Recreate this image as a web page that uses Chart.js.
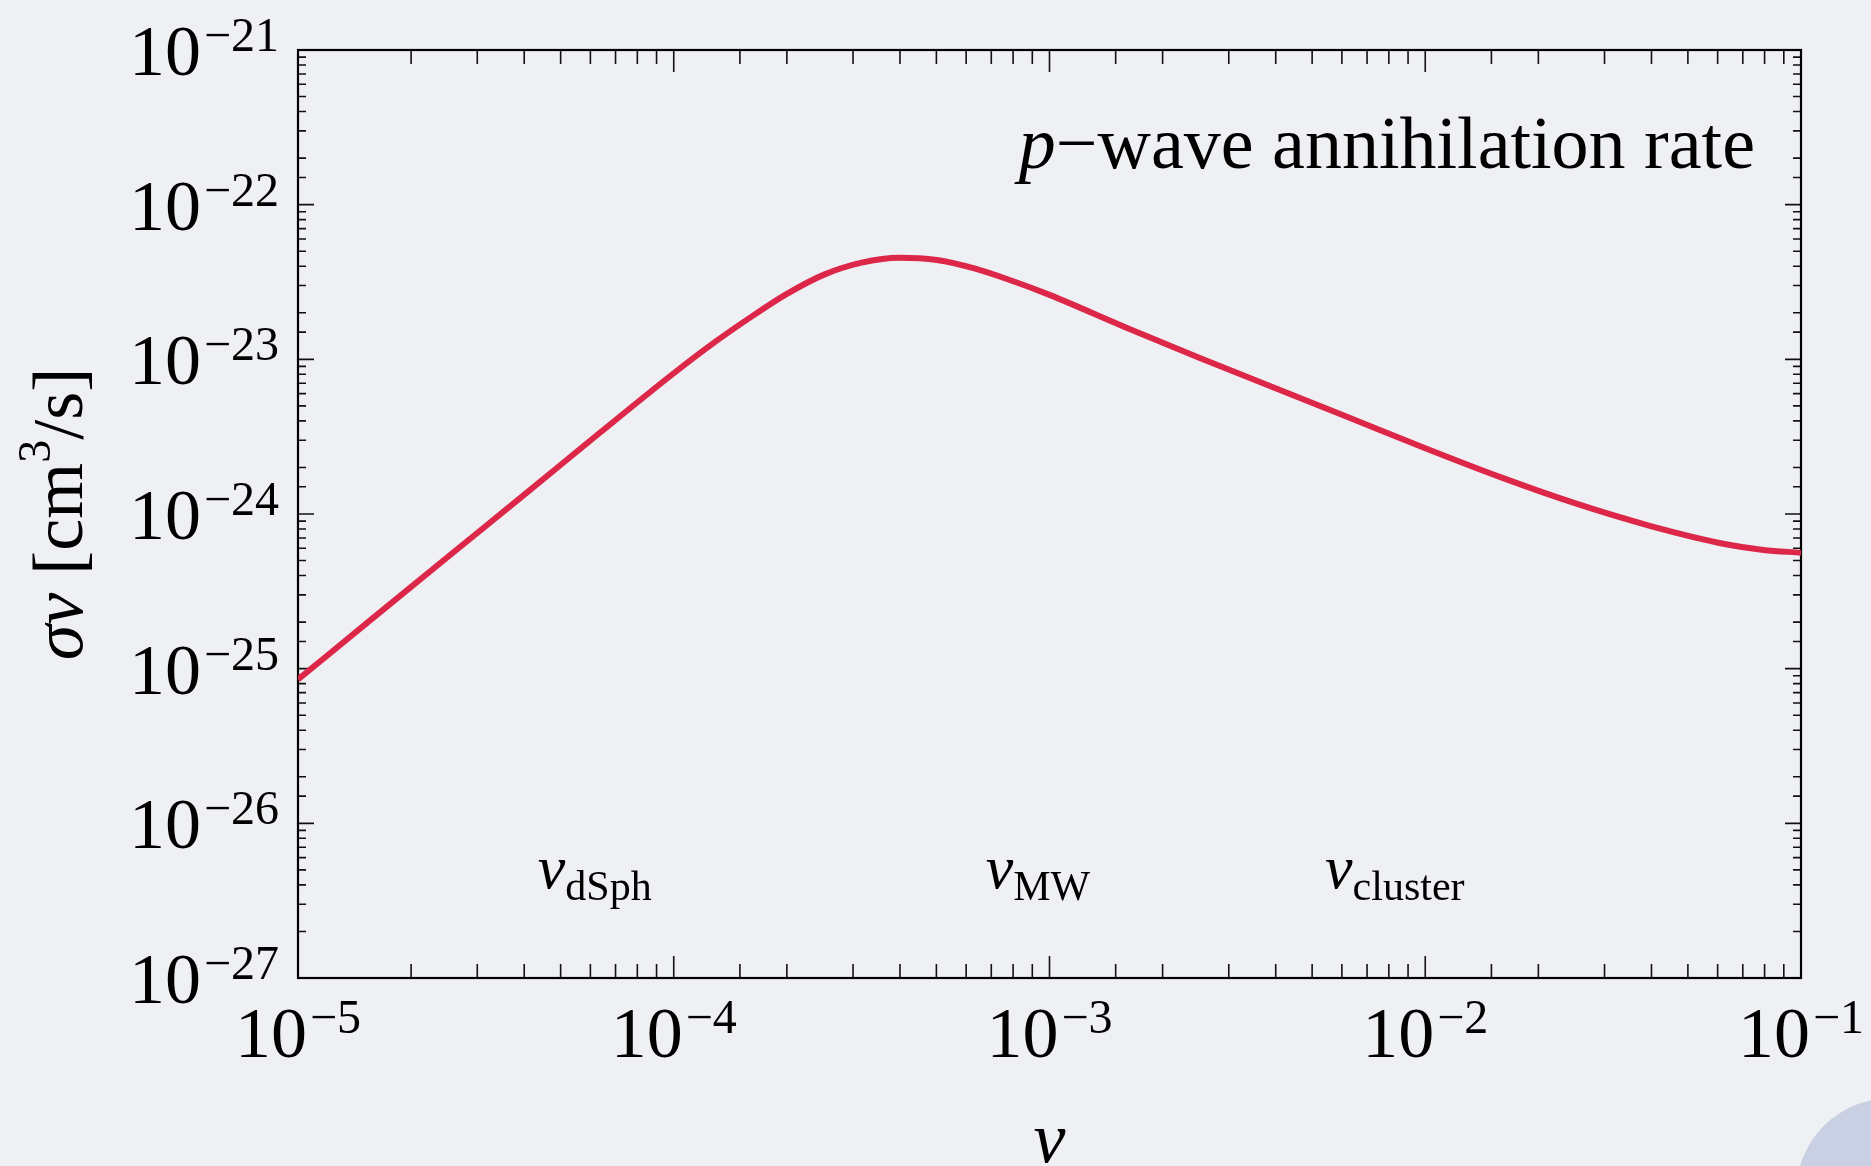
<!DOCTYPE html>
<html>
<head>
<meta charset="utf-8">
<title>p-wave annihilation rate</title>
<script src="https://cdn.jsdelivr.net/npm/chart.js@4.4.1/dist/chart.umd.min.js"></script>
<style>
  html, body { margin: 0; padding: 0; background: #eff0f4; overflow: hidden; }
  #wrap { position: relative; width: 1871px; height: 1166px; overflow: hidden; }
  #myChart { position: absolute; left: 0; top: 0; }
  .blob { position: absolute; left: 1796px; top: 1098px; width: 190px; height: 190px; border-radius: 50%; background: #c9d0e3; }
</style>
</head>
<body>
<div id="wrap">
  <div class="blob"></div>
  <canvas id="myChart" width="1871" height="1166"></canvas>
</div>
<script>
// relative velocity v and the annihilation rate sigma*v [cm^3/s]
var velocity = [1e-5, 1.585e-5, 2.512e-5, 3.981e-5, 6.310e-5, 1e-4, 1.259e-4, 1.585e-4,
    1.995e-4, 2.512e-4, 3.162e-4, 3.981e-4, 5.012e-4, 6.310e-4, 7.943e-4, 1e-3,
    1.585e-3, 2.512e-3, 3.981e-3, 6.310e-3, 1e-2, 1.585e-2, 2.512e-2, 3.981e-2,
    6.310e-2, 7.943e-2, 1e-1];
var sigmaV = [8.51e-26, 2.13e-25, 5.31e-25, 1.32e-24, 3.30e-24, 8.13e-24, 1.245e-23, 1.84e-23,
    2.64e-23, 3.53e-23, 4.22e-23, 4.54e-23, 4.39e-23, 3.87e-23, 3.22e-23, 2.61e-23,
    1.62e-23, 1.02e-23, 6.53e-24, 4.17e-24, 2.66e-24, 1.73e-24, 1.17e-24, 8.36e-25,
    6.38e-25, 5.86e-25, 5.62e-25];

// decade labels, drawn as 10 with a raised exponent
var xTickValues = [1e-5, 1e-4, 1e-3, 1e-2, 1e-1];
var xTickExponents = ['\u22125', '\u22124', '\u22123', '\u22122', '\u22121'];
var yTickValues = [1e-27, 1e-26, 1e-25, 1e-24, 1e-23, 1e-22, 1e-21];
var yTickExponents = ['\u221227', '\u221226', '\u221225', '\u221224', '\u221223', '\u221222', '\u221221'];

// typical velocities of dwarf spheroidals, the Milky Way and galaxy clusters
var regionNames = ['dSph', 'MW', 'cluster'];

var SERIF = '"Liberation Serif", "Times New Roman", serif';

function isDecade(v) {
    var l = Math.log10(v);
    return Math.abs(l - Math.round(l)) < 1e-6;
}

function drawPower(ctx, x, yMid, exp, align) {
    ctx.font = '72px ' + SERIF;
    var wBase = ctx.measureText('10').width;
    ctx.font = '48px ' + SERIF;
    var wExp = ctx.measureText(exp).width;
    var total = wBase + 3 + wExp;
    var left = align === 'right' ? x - total : x - total / 2;
    ctx.textAlign = 'left';
    ctx.textBaseline = 'alphabetic';
    ctx.font = '72px ' + SERIF;
    ctx.fillText('10', left, yMid + 25);
    ctx.font = '48px ' + SERIF;
    ctx.fillText(exp, left + wBase + 3, yMid + 1);
}

// draws a list of [text, font, dy] pieces one after another
function drawRuns(ctx, x, y, runs) {
    ctx.textAlign = 'left';
    ctx.textBaseline = 'alphabetic';
    runs.forEach(function (r) {
        ctx.font = r[1];
        ctx.fillText(r[0], x, y + (r[2] || 0));
        x += ctx.measureText(r[0]).width;
    });
}

function runsWidth(ctx, runs) {
    var w = 0;
    runs.forEach(function (r) {
        ctx.font = r[1];
        w += ctx.measureText(r[0]).width;
    });
    return w;
}

var framePlugin = {
    id: 'frame',
    beforeDatasetsDraw: function (chart) {
        var ctx = chart.ctx;
        var a = chart.chartArea;
        var xs = chart.scales.x;
        var ys = chart.scales.y;
        ctx.save();
        ctx.strokeStyle = '#111';
        ctx.lineWidth = 1.6;
        xs.ticks.forEach(function (t) {
            var px = xs.getPixelForValue(t.value);
            var len = isDecade(t.value) ? 22 : 14;
            ctx.beginPath();
            ctx.moveTo(px, a.bottom);
            ctx.lineTo(px, a.bottom - len);
            ctx.moveTo(px, a.top);
            ctx.lineTo(px, a.top + len);
            ctx.stroke();
        });
        ys.ticks.forEach(function (t) {
            var py = ys.getPixelForValue(t.value);
            var len = isDecade(t.value) ? 16 : 8;
            ctx.beginPath();
            ctx.moveTo(a.left, py);
            ctx.lineTo(a.left + len, py);
            ctx.moveTo(a.right, py);
            ctx.lineTo(a.right - len, py);
            ctx.stroke();
        });
        ctx.lineWidth = 2.2;
        ctx.strokeStyle = '#000';
        ctx.strokeRect(a.left, a.top, a.right - a.left, a.bottom - a.top);
        ctx.restore();
    },
    afterDraw: function (chart) {
        var ctx = chart.ctx;
        var a = chart.chartArea;
        var xs = chart.scales.x;
        var ys = chart.scales.y;
        ctx.save();
        ctx.fillStyle = '#000';

        xTickValues.forEach(function (v, i) {
            drawPower(ctx, xs.getPixelForValue(v), 1032, xTickExponents[i], 'center');
        });
        yTickValues.forEach(function (v, i) {
            drawPower(ctx, a.left - 19, ys.getPixelForValue(v), yTickExponents[i], 'right');
        });

        // panel title
        var title = [['p', 'italic 74px ' + SERIF], ['\u2212wave annihilation rate', '74px ' + SERIF]];
        drawRuns(ctx, 1755 - runsWidth(ctx, title), 168, title);

        // region markers along the bottom
        var anchors = [4.4e-5, 6.85e-4, 5.48e-3];
        regionNames.forEach(function (name, i) {
            var px = xs.getPixelForValue(anchors[i]);
            drawRuns(ctx, px - 2, 888, [['v', 'italic 62px ' + SERIF], [name, '42px ' + SERIF, 12]]);
        });

        // x axis title
        ctx.font = 'italic 72px ' + SERIF;
        ctx.textAlign = 'center';
        ctx.fillText('v', (a.left + a.right) / 2, 1162);

        // y axis title, rotated
        var yTitle = [['\u03c3v', 'italic 72px ' + SERIF], [' [cm', '72px ' + SERIF],
            ['3', '46px ' + SERIF, -32], ['/s]', '72px ' + SERIF]];
        var w = runsWidth(ctx, yTitle);
        ctx.translate(82, (a.top + a.bottom) / 2);
        ctx.rotate(-Math.PI / 2);
        drawRuns(ctx, -w / 2, 0, yTitle);
        ctx.restore();
    }
};

var points = velocity.map(function (v, i) {
    return { x: v, y: sigmaV[i] };
});

var ctx = document.getElementById('myChart').getContext('2d');
var myChart = new Chart(ctx, {
    type: 'line',
    data: {
        datasets: [{
            label: 'sigma v',
            data: points,
            borderColor: '#dc2749',
            borderWidth: 6,
            pointRadius: 0,
            cubicInterpolationMode: 'monotone',
            fill: false
        }]
    },
    options: {
        responsive: false,
        animation: false,
        devicePixelRatio: 1,
        layout: {
            padding: { left: 298, right: 70, top: 50, bottom: 188 }
        },
        plugins: {
            legend: { display: false },
            tooltip: { enabled: false }
        },
        scales: {
            x: {
                type: 'logarithmic',
                min: 1e-5,
                max: 1e-1,
                grid: { display: false, drawTicks: false },
                border: { display: false },
                ticks: { display: false }
            },
            y: {
                type: 'logarithmic',
                min: 1e-27,
                max: 1e-21,
                grid: { display: false, drawTicks: false },
                border: { display: false },
                ticks: { display: false }
            }
        }
    },
    plugins: [framePlugin]
});
</script>
</body>
</html>
